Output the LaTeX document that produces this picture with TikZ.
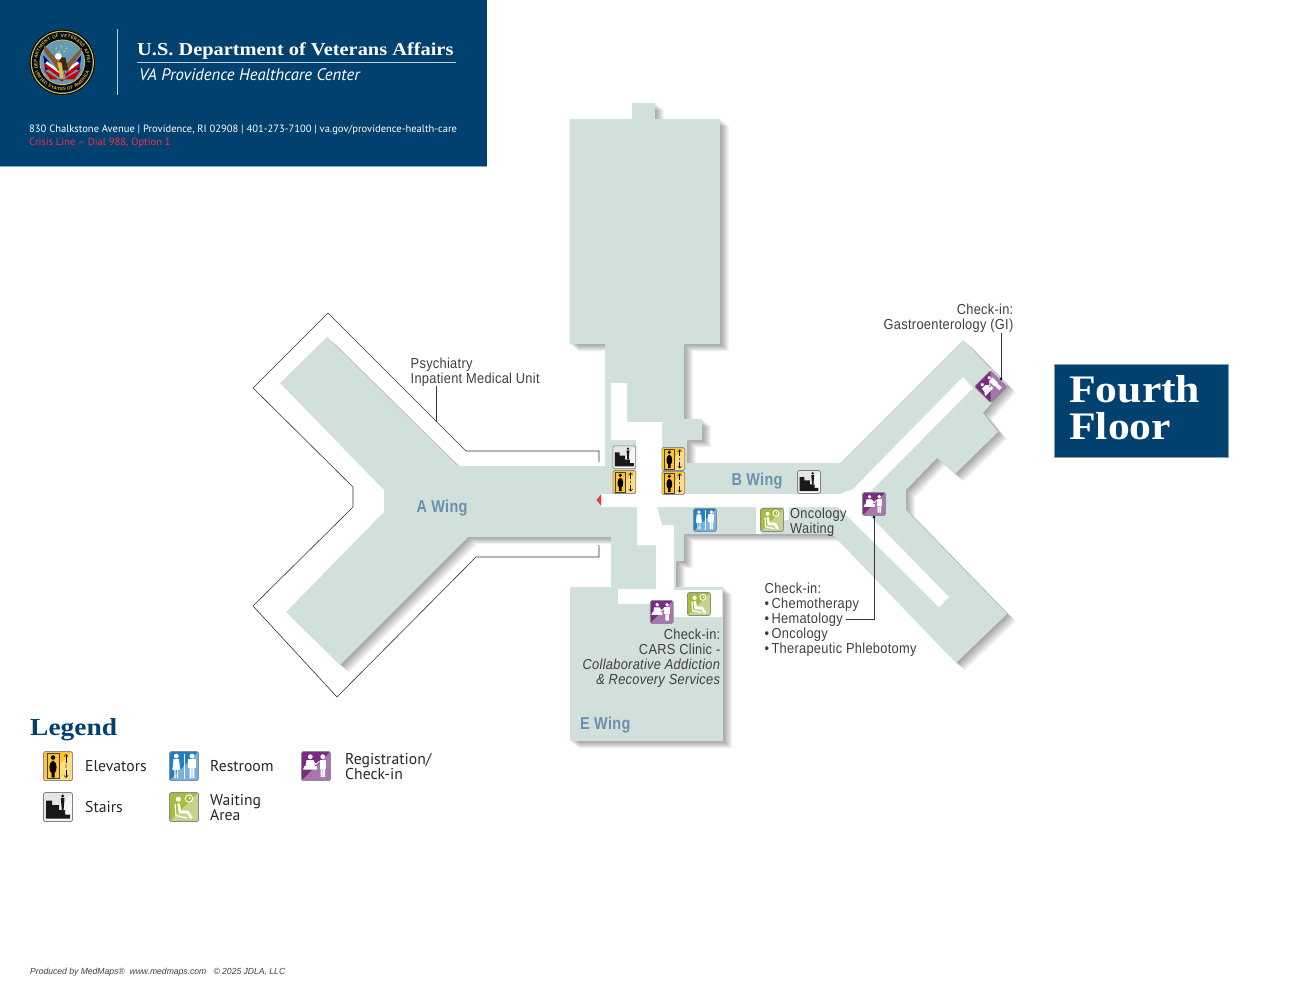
\documentclass[tikz,border=0pt]{standalone}
\usepackage{xcolor}
\usepackage{fontspec}
\usepackage{tikz}
\usetikzlibrary{arrows.meta, decorations.text}
\setmainfont{Liberation Sans}
\newfontfamily\mapfont{Liberation Sans}[FakeStretch=0.885,LetterSpace=2]
\newfontfamily\wingfont{Liberation Sans}[FakeStretch=0.84,LetterSpace=2]
\newfontfamily\titlefont{Liberation Serif}[FakeStretch=1.12]
\newfontfamily\infofont{PT Sans}
\newfontfamily\footfont{Liberation Sans}[FakeStretch=0.97]
\definecolor{vanavy}{HTML}{00416F}
\definecolor{floorgreen}{HTML}{D2E0DC}
\definecolor{wingblue}{HTML}{6A91AC}
\definecolor{maptext}{HTML}{3F3F3F}
\definecolor{crisisred}{HTML}{FF2A45}
\definecolor{sealgold}{HTML}{E4BE4A}
\definecolor{elevdark}{HTML}{FDC52F}
\definecolor{elevlight}{HTML}{FEDD7E}
\definecolor{restdark}{HTML}{1F7FC0}
\definecolor{restlight}{HTML}{74B2DC}
\definecolor{regdark}{HTML}{7A2C82}
\definecolor{reglight}{HTML}{A975AD}
\definecolor{waitdark}{HTML}{A5BC3E}
\definecolor{waitlight}{HTML}{C5D48D}
\newcommand{\floorpath}{(632,103) -- (655,103) -- (655,119) -- (720,119) -- (720,344) -- (684,344) -- (684,419) -- (702,419) -- (702,440) -- (687,440) -- (687,463) -- (840,463) -- (963,340) -- (1007,385) -- (983,413) -- (998,432) -- (955,474) -- (937,458) -- (906,490) -- (906,510) -- (1007,614) -- (956,663) -- (832,534) -- (684,534) -- (684,561) -- (676,561) -- (676,587) -- (723,587) -- (723,741) -- (570,741) -- (570,587) -- (611,587) -- (611,537) -- (468,537) -- (340,665) -- (286,612) -- (384,512) -- (384,490) -- (280,383) -- (327,337) -- (458,466) -- (605,466) -- (605,344) -- (569.5,344) -- (569.5,119) -- (632,119) -- cycle}
\newcommand{\iconbase}[3]{
    \fill[#1, rounded corners=1.5] (-14.5,-14.5) rectangle (14.5,14.5);
    \fill[#2] (14,-14) -- (14,14) -- (-14,14) -- cycle;
    \draw[#3, line width=.7, rounded corners=1.5] (-14.5,-14.5) rectangle (14.5,14.5);
}
\tikzset{
    floorlabel/.style={font=\mapfont\fontsize{14.5}{15}\selectfont, text=maptext, inner sep=0pt},
    winglabel/.style={font=\wingfont\bfseries\fontsize{17.2}{18}\selectfont, text=wingblue, inner sep=0pt},
    legendlabel/.style={font=\infofont\fontsize{15.7}{14.5}\selectfont, text=black!85, inner sep=0pt, anchor=west, align=left},
    leader/.style={draw=black!80, line width=.7pt},
    outline/.style={draw=black!80, line width=.6pt},
    elevicon/.pic={
        \iconbase{elevdark}{elevlight}{black!45}
        \draw[black!75, line width=.5, fill=elevdark] (-11,-12.5) rectangle (1.3,12.5);
        \fill[black] (-5,-8.5) circle[radius=2.3];
        \fill[black] (-5,-5.5) .. controls (-10,-4) and (-9,6) .. (-6.5,7) -- (-6.5,11.5) -- (-3.5,11.5) -- (-3.5,7) .. controls (-1,6) and (0,-4) .. (-5,-5.5);
        \draw[black, line width=.45, -{Straight Barb[length=2.2pt,width=4pt]}] (8,-3.5) -- (8,-12);
        \draw[black, line width=.45, -{Straight Barb[length=2.2pt,width=4pt]}] (8,3.5) -- (8,12);
        \fill[black] (8,-1) circle[radius=.6] (8,1) circle[radius=.6];
    },
    stairicon/.pic={
        \iconbase{black!10}{black!3}{black!50}
        \fill[black!90] (-12,11.5) -- (-12,-6.3) -- (-6,-6.3) -- (-6,-2) -- (1,-2) -- (1,3) -- (7,3) -- (7,7.5) -- (12,7.5) -- (12,11.5) -- cycle;
        \fill[black!90] (4.7,-11) circle[radius=1.7];
        \fill[black!90] (2.9,-8.8) -- (6.5,-8.8) -- (6.1,-3) -- (5.6,3) -- (3.8,3) -- (3.3,-3) -- cycle;
    },
    resticon/.pic={
        \iconbase{restdark}{restlight}{black!45}
        \draw[white, line width=.9] (0,-12.5) -- (0,12.5);
        \fill[white] (-7.7,-10) circle[radius=2.4] (8,-10) circle[radius=2.4];
        \fill[white] (-10.5,-7) -- (-5,-7) -- (-3.8,4) -- (-11.7,4) -- cycle;
        \fill[white] (-9.7,4) rectangle (-8.3,12) (-7.2,4) rectangle (-5.8,12);
        \fill[white] (4.2,-7) rectangle (11.8,2);
        \fill[white] (5.7,2) rectangle (7.6,12) (8.4,2) rectangle (10.3,12);
    },
    regicon/.pic={
        \iconbase{regdark}{reglight}{black!45}
        \fill[white] (-5.7,-9.3) circle[radius=2.4] (6.7,-9.3) circle[radius=2.4];
        \fill[white] (-9.5,-6) -- (-2.5,-6) -- (-1,0) -- (-10.5,0) -- cycle;
        \fill[white] (-11.5,0) -- (1,0) -- (1,3.5) -- (-13,3.5) -- cycle;
        \draw[white, line width=1] (-3,-5) -- (0,-1.5) -- (3.5,-5);
        \fill[white] (3.5,-6.5) rectangle (10,3);
        \fill[white] (4.5,3) rectangle (6.5,11) (7,3) rectangle (9,11);
    },
    waiticon/.pic={
        \iconbase{waitdark}{waitlight}{black!45}
        \fill[white] (-5.5,-7.8) circle[radius=2.6];
        \draw[white, line width=2.6, line join=round] (-5.5,-3.5) -- (-4,5) -- (4,5) -- (7.5,11.5);
        \draw[white, line width=1.2, line join=round] (-9,-3) -- (-8,8.5) -- (3,11);
        \draw[white, line width=.9] (5,-8.5) circle[radius=3.8];
        \draw[white, line width=.6] (5,-10.5) -- (5,-8.5) -- (6.8,-8.5);
    },
}
\begin{document}
\begin{tikzpicture}[x=1pt,y=-1pt]
    \useasboundingbox (0,0) rectangle (1299,1004);
    \fill[vanavy] (0,0) rectangle (487,166);
    \draw[vanavy!45, line width=.6] (0,166) -- (487,166);
    \draw[white!75!vanavy, line width=.7] (117,29) -- (117,95);
    \begin{scope}[shift={(62.3,62.3)}, y=1pt]
        \fill[black] (0,0) circle[radius=32.6];
        \fill[sealgold] (0,0) circle[radius=31.6];
        \fill[black!80!vanavy] (0,0) circle[radius=30.4];
        \fill[sealgold] (0,0) circle[radius=22.8];
        \fill[blue!30!cyan!35!gray!90] (0,0) circle[radius=22];
        \path[decorate, decoration={text along path, text align=center, text={|\sffamily\bfseries\fontsize{4.6}{5}\selectfont\color{sealgold}|DEPARTMENT OF VETERANS AFFAIRS}}] (-25,0) arc (180:0:25);
        \path[decorate, decoration={text along path, text align=center, text={|\sffamily\bfseries\fontsize{4.6}{5}\selectfont\color{sealgold}|UNITED STATES OF AMERICA}}] (-28.5,0) arc (180:360:28.5);
        \fill[blue!60!black] (-19,7) -- (-17,-8) -- (-3,-4) -- (-2,-12) -- cycle;
        \fill[blue!60!black] (19,7) -- (17,-8) -- (3,-4) -- (2,-12) -- cycle;
        \fill[red!80!black] (-19,-7) -- (-4,-17) -- (0,-19) -- (5,-15) -- (19,-7) -- (12,-17) -- (-12,-17) -- cycle;
        \foreach \s in {-1,1} {
            \fill[red!80!black] (\s*18,-4) -- (\s*3,-15) -- (\s*3,-11) -- (\s*17,-1) -- cycle;
            \fill[white] (\s*17,-1) -- (\s*3,-11) -- (\s*3,-8) -- (\s*15,1) -- cycle;
        }
        \fill[brown!70!black] (-2,-1) -- (-18,17) .. controls (-20,10) and (-14,6) .. (-11,2) -- (-3,-10) -- cycle;
        \fill[brown!70!black] (3,-3) -- (20,15) .. controls (19,8) and (14,4) .. (12,1) -- (4,-11) -- cycle;
        \fill[black!70!brown] (-5,-8) -- (6,-8) -- (3,5) -- (-2,5) -- cycle;
        \fill[white] (-4,6) circle[radius=3.4];
        \fill[sealgold] (-5,0) -- (-1,0) -- (0,-4) -- (1,-16) -- (-2,-16) -- cycle;
        \foreach \x/\y in {-6/14,-1/16,4/14,-3/11,2/11}
            \fill[sealgold] (\x,\y) circle[radius=1];
    \end{scope}
    \node[font=\titlefont\bfseries\fontsize{18.2}{20}\selectfont, text=white, anchor=base west, inner sep=0pt] (vaname) at (137,55.5) {U.S. Department of Veterans Affairs};
    \draw[white!75!vanavy, line width=.7] (137,62) -- (456,62);
    \node[font=\infofont\itshape\fontsize{16.7}{18}\selectfont, text=white, anchor=base west, inner sep=0pt] (vacenter) at (139,80) {VA Providence Healthcare Center};
    \node[font=\infofont\fontsize{10.55}{12}\selectfont, text=white, anchor=base west, inner sep=0pt] (vaaddress) at (29,132) {830 Chalkstone Avenue | Providence, RI 02908 | 401-273-7100 | va.gov/providence-health-care};
    \node[font=\infofont\fontsize{10.55}{12}\selectfont, text=crisisred, anchor=base west, inner sep=0pt] (vacrisis) at (29,145) {Crisis Line – Dial 988, Option 1};

    \foreach \d in {1,2,...,8}
        \fill[black, opacity=.05, shift={(\d*1.1,\d*.9)}] \floorpath;
    \fill[floorgreen] \floorpath;
    \fill[white] (611,383) -- (627,383) -- (627,422) -- (662,422) -- (662,494) -- (840,494) -- (853,489) -- (963,377) -- (973,388) -- (870,492) -- (864,510) -- (949,597) -- (939,607) -- (838,507) -- (657,507) -- (662,525) -- (674,525) -- (674,590) -- (722,590) -- (722,617) -- (673,617) -- (673,604) -- (618,604) -- (618,589) -- (656,589) -- (656,545) -- (637,545) -- (637,507) -- (601,507) -- (601,494) -- (636,494) -- (636,440) -- (611,440) -- cycle;
    \fill[white] (756,507) rectangle (762,534);
    \fill[white] (784,507) rectangle (789,520);
    \fill[crisisred] (601,494.5) -- (601,505.5) -- (596.5,500) -- cycle;

    \draw[outline] (599,462) -- (599,451) -- (466,451) -- (328,313) -- (253,388) -- (353,487) -- (353,507) -- (253,606) -- (337,697) -- (476,557) -- (599,557) -- (599,545);

    \node[winglabel] (awing) at (442,508) {A Wing};
    \node[winglabel] (bwing) at (757,481.5) {B Wing};
    \node[winglabel, anchor=west] (ewing) at (580,725.5) {E Wing};

    \node[floorlabel, anchor=north west, align=left] (psychlabel) at (410.5,358) {Psychiatry\\Inpatient Medical Unit};
    \node[floorlabel, anchor=north east, align=right] (gilabel) at (1013.5,304) {Check-in:\\Gastroenterology (GI)};
    \node[floorlabel, anchor=north west, align=left, font=\mapfont\fontsize{14.5}{13}\selectfont] (onclabel) at (790,508) {Oncology\\Waiting};
    \node[floorlabel, anchor=north west, align=left] (chemolabel) at (764.5,583) {Check-in:\\\textbullet\,Chemotherapy\\\textbullet\,Hematology\\\textbullet\,Oncology\\\textbullet\,Therapeutic Phlebotomy};
    \node[floorlabel, anchor=north east, align=right] (carslabel) at (720.5,629) {Check-in:\\CARS Clinic -\\\textit{Collaborative Addiction}\\\textit{\& Recovery Services}};

    \coordinate (psychtip) at (436,422);
    \coordinate (gitip) at (1001,379);
    \coordinate (hemaend) at (846,619.5);
    \coordinate (chemotip) at (874,517);
    \draw[leader] (psychtip |- 0,386) -- (psychtip);
    \draw[leader] (gitip |- gilabel.south) -- (gitip);
    \fill[black] (gitip) circle[radius=1.3];
    \draw[leader] (hemaend) -| (chemotip);
    \fill[black] (chemotip) circle[radius=1.3];

    \foreach \x/\y in {624.3/457.3,809/482}
        \pic[scale=.79] at (\x,\y) {stairicon};
    \foreach \x/\y in {624.3/482,673.3/459,673.3/483}
        \pic[scale=.79] at (\x,\y) {elevicon};
    \pic[scale=.79] at (705,520) {resticon};
    \foreach \x/\y in {772/520,699/604}
        \pic[scale=.79] at (\x,\y) {waiticon};
    \foreach \x/\y in {874/504,661.7/612}
        \pic[scale=.79] at (\x,\y) {regicon};
    \pic[scale=.79, rotate=45] at (990.7,386.7) {regicon};

    \fill[vanavy] (1054.7,364) rectangle (1228,457);
    \draw[vanavy!50, line width=.5] (1054.7,364) rectangle (1228,457);
    \node[font=\titlefont\bfseries\fontsize{39}{37}\selectfont, text=white, anchor=north west, align=left, inner sep=0pt] (floorname) at (1069,375) {Fourth\\Floor};

    \node[font=\titlefont\bfseries\fontsize{24.5}{26}\selectfont, text=vanavy, anchor=base west, inner sep=0pt] (legendname) at (30,735) {Legend};
    \pic at (58,766) {elevicon};
    \pic at (184,766) {resticon};
    \pic at (316,766) {regicon};
    \pic at (58,807) {stairicon};
    \pic at (184,807) {waiticon};
    \node[legendlabel] (legelev) at (85,766) {Elevators};
    \node[legendlabel] (legrest) at (210,766) {Restroom};
    \node[legendlabel] (legreg) at (345,766.5) {Registration/\\Check-in};
    \node[legendlabel] (legstair) at (85,807) {Stairs};
    \node[legendlabel] (legwait) at (210,807.5) {Waiting\\Area};

    \node[font=\footfont\itshape\fontsize{8.85}{10}\selectfont, text=black!75, anchor=west, inner sep=0pt] (credits) at (30,972) {Produced by MedMaps\textregistered\ \ www.medmaps.com\ \ \ \textcopyright\ 2025 JDLA, LLC};
\end{tikzpicture}
\end{document}
